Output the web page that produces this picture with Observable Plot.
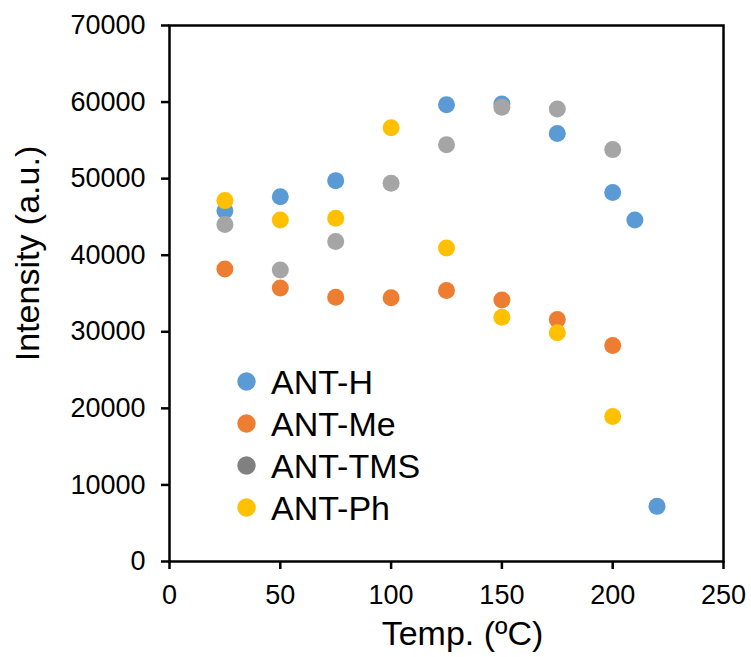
<!DOCTYPE html>
<html><head><meta charset="utf-8">
<script src="https://cdn.jsdelivr.net/npm/d3@7"></script>
<script src="https://cdn.jsdelivr.net/npm/@observablehq/plot@0.6"></script>
<style>
body{margin:0;background:#fff;}
#wrap{position:relative;width:751px;height:657px;font-family:"Liberation Sans",Arial,sans-serif;}
#legend{position:absolute;left:237px;top:360.6px;}
.row{display:flex;align-items:center;height:42.1px;font-size:34px;color:#000;line-height:1;}
.row svg{margin-right:15px;flex:none;}
</style></head><body><div id="wrap"></div>
<script>
const seriesNames = ["ANT-H", "ANT-Me", "ANT-TMS", "ANT-Ph"];
const seriesColors = ["#5B9BD5", "#ED7D31", "#A5A5A5", "#FFC000"];
const legendColors = ["#5B9BD5", "#ED7D31", "#808080", "#FFC000"];

const tempH = [25, 50, 75, 125, 150, 175, 200, 210, 220];
const valH = [45800, 47650, 49740, 59660, 59750, 55900, 48200, 44600, 7200];

const temps = [25, 50, 75, 100, 125, 150, 175, 200];
const valMe = [38200, 35730, 34500, 34430, 35380, 34160, 31590, 28200];
const valTMS = [44000, 38080, 41780, 49390, 54440, 59310, 59100, 53790];
const valPh = [47130, 44600, 44820, 56660, 40950, 31890, 29860, 18930];

const xTicks = [0, 50, 100, 150, 200, 250];
const yTicks = [0, 10000, 20000, 30000, 40000, 50000, 60000, 70000];
const xTitle = "Temp. (ºC)";
const yTitle = "Intensity (a.u.)";

const data = [
  ...tempH.map((t, i) => ({series: "ANT-H", temp: t, value: valH[i]})),
  ...temps.map((t, i) => ({series: "ANT-Me", temp: t, value: valMe[i]})),
  ...temps.map((t, i) => ({series: "ANT-TMS", temp: t, value: valTMS[i]})),
  ...temps.map((t, i) => ({series: "ANT-Ph", temp: t, value: valPh[i]}))
];

const chart = Plot.plot({
  width: 751, height: 657,
  marginLeft: 169, marginRight: 28, marginTop: 25, marginBottom: 96,
  style: {fontFamily: "Liberation Sans, Arial, sans-serif", background: "#fff", color: "#000", overflow: "visible"},
  x: {domain: [0, 250]},
  y: {domain: [0, 70000]},
  color: {domain: seriesNames, range: seriesColors},
  marks: [
    Plot.axisX({ticks: xTicks, tickSize: 8, tickPadding: 15, fontSize: 27, strokeWidth: 2.5, label: null, tickFormat: d => String(d)}),
    Plot.axisY({ticks: yTicks, tickSize: 8, tickPadding: 16, fontSize: 27, strokeWidth: 2.5, label: null, tickFormat: d => String(d)}),
    Plot.frame({stroke: "#000", strokeWidth: 2.5}),
    Plot.dot(data, {x: "temp", y: "value", fill: "series", r: 8.5}),
    Plot.text([xTitle], {text: d => d, frameAnchor: "bottom", textAnchor: "middle", lineAnchor: "middle", dx: 16, dy: 73, fontSize: 34}),
    Plot.text([yTitle], {text: d => d, frameAnchor: "left", textAnchor: "middle", lineAnchor: "middle", rotate: -90, dx: -141, dy: -40, fontSize: 34})
  ]
});

const wrap = document.getElementById("wrap");
wrap.appendChild(chart);
const legend = document.createElement("div");
legend.id = "legend";
seriesNames.forEach((name, i) => {
  const row = document.createElement("div");
  row.className = "row";
  row.innerHTML = `<svg width="19" height="19"><circle cx="9.5" cy="9.5" r="9.2" fill="${legendColors[i]}"/></svg><span>${name}</span>`;
  legend.appendChild(row);
});
wrap.appendChild(legend);
</script>
</body></html>
